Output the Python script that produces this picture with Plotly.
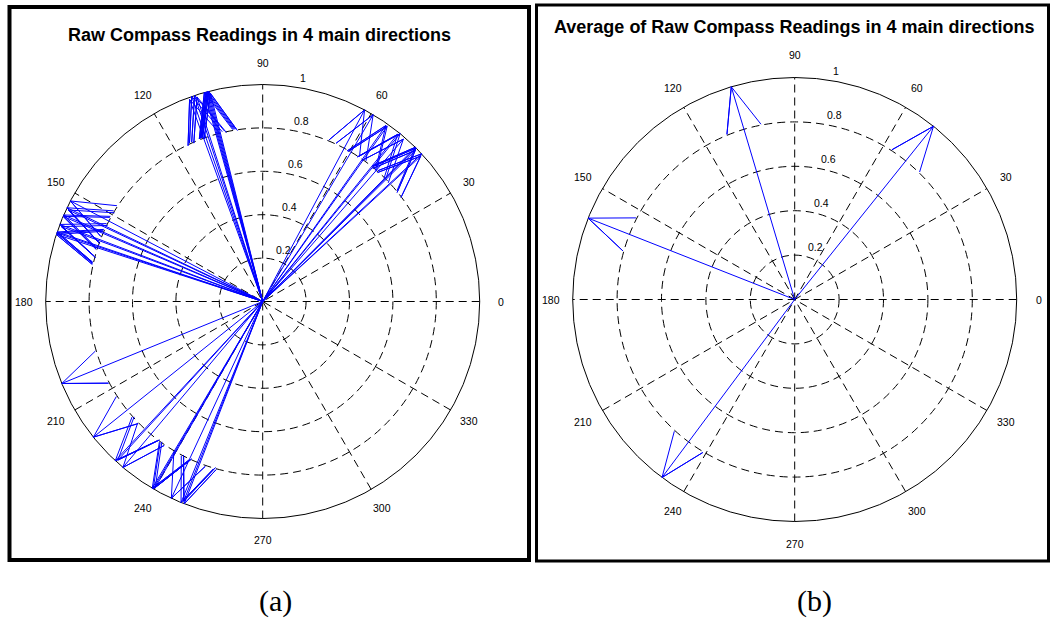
import numpy as np
import plotly.graph_objects as go

W, H = 1050, 625

# ---------------- data ----------------
# (a) raw compass readings: angle (deg) and magnitude, grouped by main direction
raw_angle_nw = [109.9, 109.1, 108.3, 107.8, 105.6, 105.3, 105.0, 104.7, 104.4, 104.1]
raw_mag_nw = [0.99, 1.00, 1.00, 0.99, 1.00, 1.00, 1.00, 1.00, 1.00, 0.99]

raw_angle_ne = [62.0, 59.4, 55.0, 54.6, 51.1, 50.7, 49.1, 45.3, 45.0, 44.7, 42.9, 42.6]
raw_mag_ne = [1.00, 1.00, 0.99, 0.99, 0.99, 1.00, 0.99, 1.00, 1.00, 0.99, 1.00, 0.99]

raw_angle_w = [152.4, 154.4, 154.8, 156.5, 156.9, 159.2, 159.6, 161.3, 161.6, 162.0]
raw_mag_w = [1.00, 1.00, 0.99, 1.00, 1.00, 1.00, 0.99, 1.00, 1.00, 1.00]

raw_angle_sw = [202.2, 218.7, 227.2, 227.6, 229.9, 239.4, 239.7, 240.0, 245.1, 247.9, 248.4, 248.8]
raw_mag_sw = [1.00, 1.00, 1.00, 0.99, 1.00, 1.00, 1.00, 0.99, 1.00, 1.00, 0.99, 1.00]

# (b) averages of the raw readings in the 4 main directions
avg_angle = [106.6, 51.3, 158.5, 233.3]
avg_mag = [1.00, 1.00, 1.00, 1.00]

ring_values = [0.2, 0.4, 0.6, 0.8, 1.0]
ring_labels = ["0.2", "0.4", "0.6", "0.8", "1"]
spoke_angles = [0, 30, 60, 90, 120, 150, 180, 210, 240, 270, 300, 330]
spoke_labels = ["0", "30", "60", "90", "120", "150", "180", "210", "240", "270", "300", "330"]

titles = ["Raw Compass Readings in 4 main directions",
          "Average of Raw Compass Readings in 4 main directions"]
captions = ["(a)", "(b)"]

# ---------------- layout geometry (pixels) ----------------
panels = [
    dict(cx=262.7, cy=301.5, r=217.0, px0=0, px1=532, title_xy=(259, 35),
         frame=(9.5, 7.0, 529.0, 560.0), frame_w=4, cap_xy=(275, 601), ax="x", ay="y"),
    dict(cx=794.7, cy=299.5, r=222.0, px0=532, px1=1050, title_xy=(794, 27),
         frame=(536.5, 5.0, 1048.5, 561.0), frame_w=3, cap_xy=(814, 601), ax="x2", ay="y2"),
]


def arrow_xy(angles_deg, mags):
    xs, ys = [], []
    head = np.array([0, 1, 0.8 + 0.08j, 1, 0.8 - 0.08j])
    for a, m in zip(angles_deg, mags):
        z = m * np.exp(1j * np.deg2rad(a))
        pts = head * z
        xs += list(pts.real) + [None]
        ys += list(pts.imag) + [None]
    return xs, ys


fig = go.Figure()

BLUE = "#0000ff"
GRID = "#000000"
DASH = "8px,5px"

raw_groups = [(raw_angle_nw, raw_mag_nw), (raw_angle_ne, raw_mag_ne),
              (raw_angle_w, raw_mag_w), (raw_angle_sw, raw_mag_sw)]
for ang, mag in raw_groups:
    xs, ys = arrow_xy(ang, mag)
    fig.add_trace(go.Scatter(x=xs, y=ys, mode="lines", line=dict(color=BLUE, width=1),
                             xaxis="x", yaxis="y", hoverinfo="skip", showlegend=False))

xs, ys = arrow_xy(avg_angle, avg_mag)
fig.add_trace(go.Scatter(x=xs, y=ys, mode="lines", line=dict(color=BLUE, width=1),
                         xaxis="x2", yaxis="y2", hoverinfo="skip", showlegend=False))

shapes = []
annotations = []
layout_axes = {}

for i, p in enumerate(panels):
    cx, cy, r = p["cx"], p["cy"], p["r"]
    xr = [(p["px0"] - cx) / r, (p["px1"] - cx) / r]
    yr = [(cy - H) / r, cy / r]
    xname = "xaxis" if i == 0 else "xaxis2"
    yname = "yaxis" if i == 0 else "yaxis2"
    layout_axes[xname] = dict(domain=[p["px0"] / W, p["px1"] / W], range=xr, visible=False,
                              fixedrange=True, anchor=p["ay"])
    layout_axes[yname] = dict(domain=[0, 1], range=yr, visible=False, fixedrange=True,
                              anchor=p["ax"])
    xref, yref = p["ax"], p["ay"]

    # rings
    for v in ring_values:
        shapes.append(dict(type="circle", xref=xref, yref=yref, x0=-v, y0=-v, x1=v, y1=v,
                           line=dict(color=GRID, width=1,
                                     dash="solid" if v == ring_values[-1] else DASH),
                           layer="below"))
    # spokes
    for a in spoke_angles[:6]:
        t = np.deg2rad(a + 30)
        shapes.append(dict(type="line", xref=xref, yref=yref,
                           x0=-np.cos(t), y0=-np.sin(t), x1=np.cos(t), y1=np.sin(t),
                           line=dict(color=GRID, width=1, dash=DASH), layer="below"))
    # angle labels
    for a, lab in zip(spoke_angles, spoke_labels):
        t = np.deg2rad(a)
        annotations.append(dict(x=1.1 * np.cos(t), y=1.1 * np.sin(t), xref=xref, yref=yref,
                                text=lab, showarrow=False, xanchor="center", yanchor="middle",
                                font=dict(family="Liberation Sans, Arial", size=10.5, color="#000")))
    # ring labels
    t82 = np.deg2rad(82)
    for v, lab in zip(ring_values, ring_labels):
        annotations.append(dict(x=(v + 0.01) * np.cos(t82), y=(v + 0.01) * np.sin(t82),
                                xref=xref, yref=yref, text=lab, showarrow=False,
                                xanchor="left", yanchor="bottom", xshift=5, yshift=-2,
                                font=dict(family="Liberation Sans, Arial", size=10.5, color="#000")))
    # title
    tx, ty = p["title_xy"]
    annotations.append(dict(x=tx / W, y=1 - ty / H, xref="paper", yref="paper",
                            text="<b>" + titles[i] + "</b>", showarrow=False,
                            xanchor="center", yanchor="middle",
                            font=dict(family="Liberation Sans, Arial", size=18, color="#000")))
    # caption
    cxp, cyp = p["cap_xy"]
    annotations.append(dict(x=cxp / W, y=1 - cyp / H, xref="paper", yref="paper",
                            text=captions[i], showarrow=False, xanchor="center", yanchor="middle",
                            font=dict(family="Liberation Serif, Times New Roman", size=30,
                                      color="#000")))
    # frame
    fx0, fy0, fx1, fy1 = p["frame"]
    shapes.append(dict(type="rect", xref="paper", yref="paper",
                       x0=fx0 / W, x1=fx1 / W, y0=1 - fy1 / H, y1=1 - fy0 / H,
                       line=dict(color="#000", width=p["frame_w"]), fillcolor="rgba(0,0,0,0)",
                       layer="above"))

fig.update_layout(
    width=W, height=H, autosize=False,
    margin=dict(l=0, r=0, t=0, b=0, pad=0),
    paper_bgcolor="white", plot_bgcolor="white",
    shapes=shapes, annotations=annotations, showlegend=False,
    **layout_axes,
)

fig.write_html("out.html", include_plotlyjs=True, config={"displayModeBar": False})
